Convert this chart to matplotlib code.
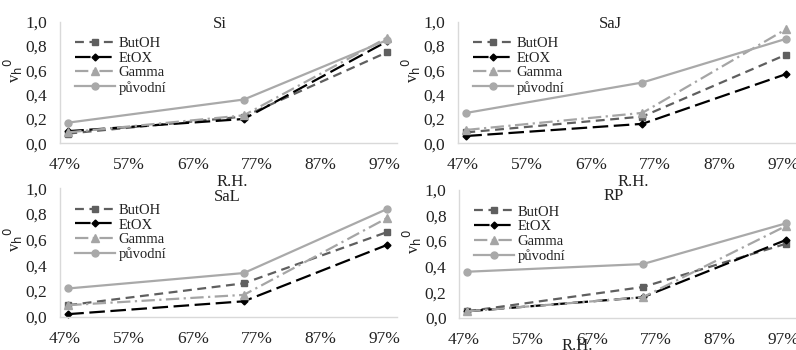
import matplotlib
matplotlib.use("Agg")
import matplotlib.pyplot as plt
from matplotlib.ticker import FuncFormatter

plt.rcParams['font.family'] = ['Liberation Serif', 'DejaVu Serif']

rh = [0.475, 0.75, 0.975]
x_ticks = [0.47, 0.57, 0.67, 0.77, 0.87, 0.97]
series_names = ["ButOH", "EtOX", "Gamma", "původní"]

panels = ["Si", "SaJ", "SaL", "RP"]
si_vals = {"ButOH": [0.08, 0.22, 0.75], "EtOX": [0.10, 0.20, 0.84],
           "Gamma": [0.09, 0.23, 0.87], "původní": [0.17, 0.36, 0.85]}
saj_vals = {"ButOH": [0.09, 0.22, 0.73], "EtOX": [0.06, 0.16, 0.57],
            "Gamma": [0.11, 0.25, 0.94], "původní": [0.25, 0.50, 0.86]}
sal_vals = {"ButOH": [0.09, 0.26, 0.66], "EtOX": [0.02, 0.12, 0.56],
            "Gamma": [0.09, 0.17, 0.77], "původní": [0.22, 0.34, 0.84]}
rp_vals = {"ButOH": [0.05, 0.24, 0.58], "EtOX": [0.05, 0.16, 0.61],
           "Gamma": [0.05, 0.16, 0.72], "původní": [0.36, 0.42, 0.74]}
all_vals = [si_vals, saj_vals, sal_vals, rp_vals]

styles = {
    "ButOH": dict(color="#5f5f5f", linestyle=(0, (4, 2.5)), marker="s", markersize=5),
    "EtOX": dict(color="#000000", linestyle=(0, (7, 2.5)), marker="D", markersize=3.5),
    "Gamma": dict(color="#a5a5a5", linestyle=(0, (6, 2, 1, 2)), marker="^", markersize=5.5),
    "původní": dict(color="#a9a9a9", linestyle="-", marker="o", markersize=5),
}

W, H = 796, 350
fig = plt.figure(figsize=(W / 100, H / 100), dpi=100)

# (left px, right px, top px (y=1.0), bottom px (y=0.0))
boxes = [(60, 397, 21.7, 143.3), (458, 796, 21.7, 143.3),
         (60, 397, 188.3, 316.7), (459, 796, 190, 317.7)]
title_pos = [(0.475, 0.985), (0.45, 0.985), (0.495, 0.93), (0.46, 0.95)]
xlabel_pos = [(0.51, -0.25), (0.52, -0.25), (0.50, -0.25), (0.35, -0.16)]

fmt_y = FuncFormatter(lambda v, p: f"{v:.1f}".replace(".", ","))
fmt_x = FuncFormatter(lambda v, p: f"{round(v * 100):d}%")

for i, (name, vals) in enumerate(zip(panels, all_vals)):
    l, r, t, b = boxes[i]
    ax = fig.add_axes([l / W, 1 - b / H, (r - l) / W, (b - t) / H])
    for s in series_names:
        st = styles[s]
        ax.plot(rh, vals[s], label=s, linewidth=1.6, color=st["color"],
                linestyle=st["linestyle"], marker=st["marker"],
                markersize=st["markersize"], markerfacecolor=st["color"],
                markeredgecolor=st["color"], clip_on=False)
    ax.set_xlim(0.462, 0.99)
    ax.set_ylim(0, 1.0)
    ax.set_xticks(x_ticks)
    ax.set_yticks([0, 0.2, 0.4, 0.6, 0.8, 1.0])
    ax.xaxis.set_major_formatter(fmt_x)
    ax.yaxis.set_major_formatter(fmt_y)
    ax.tick_params(axis="both", length=0, labelsize=12.5, colors="#222222")
    ax.tick_params(axis="x", pad=10)
    ax.tick_params(axis="y", pad=9)
    for sp in ["top", "right"]:
        ax.spines[sp].set_visible(False)
    for sp in ["left", "bottom"]:
        ax.spines[sp].set_color("#d9d9d9")
        ax.spines[sp].set_linewidth(1.0)
    ax.text(title_pos[i][0], title_pos[i][1], name, transform=ax.transAxes,
            ha="center", va="center", fontsize=12, color="#222222")
    ax.set_xlabel("R.H.", fontsize=12, color="#222222")
    ax.xaxis.set_label_coords(*xlabel_pos[i])
    ax.set_ylabel(r"v$_\mathrm{h}$$^\mathrm{0}$", fontsize=12, color="#222222")
    ax.yaxis.set_label_coords(-0.105, 0.6)
    leg = ax.legend(loc="upper left", bbox_to_anchor=(0.015, 0.96), frameon=False,
                    fontsize=10.5, handlelength=2.7, handletextpad=0.25,
                    labelspacing=0.1, borderpad=0.2)
    for txt in leg.get_texts():
        txt.set_color("#222222")

fig.savefig("out.png", dpi=100)
